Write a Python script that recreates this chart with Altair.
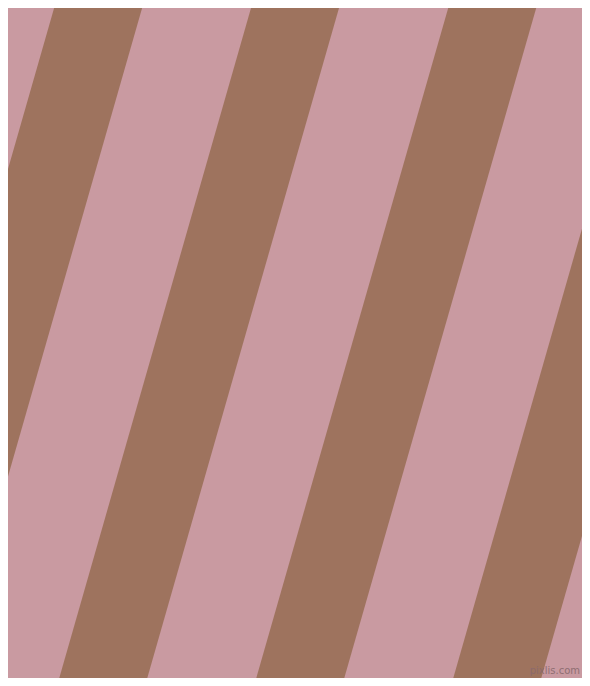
import altair as alt
import pandas as pd

# Stripe left-edge x positions at the top (y=0) and bottom (y=686) of the image
stripe_ids = ["s1", "s2", "s3", "s4"]
left_top = [56.4, 253.3, 450.5, 647.5]
left_bottom = [-140.0, 57.0, 254.0, 451.0]
stripe_width = 88.0
y_top = 0
y_bottom = 686

pink = "#C99AA1"
brown = "#9E735E"

rows = []
for sid, lt, lb in zip(stripe_ids, left_top, left_bottom):
    rows.append({"stripe": sid, "y": y_top, "x": lt, "x2": lt + stripe_width})
    rows.append({"stripe": sid, "y": y_bottom, "x": lb, "x2": lb + stripe_width})
df = pd.DataFrame(rows)

W, H = 574, 670
xs = alt.Scale(domain=[8, 8 + W], range=[0, W], nice=False, zero=False)
ys = alt.Scale(domain=[8, 8 + H], range=[0, H], nice=False, zero=False)

stripes = alt.Chart(df).mark_area(orient="horizontal", color=brown, clip=True, interpolate="linear").encode(
    y=alt.Y("y:Q", scale=ys, axis=None),
    x=alt.X("x:Q", scale=xs, axis=None),
    x2="x2:Q",
    detail="stripe:N",
)

wm = pd.DataFrame({"x": [580], "y": [8 + H - 7], "t": ["pixlis.com"]})
watermark = alt.Chart(wm).mark_text(
    align="right", baseline="middle", fontSize=10, font="DejaVu Sans",
    color="#8a6a6e", opacity=0.9
).encode(
    x=alt.X("x:Q", scale=xs, axis=None),
    y=alt.Y("y:Q", scale=ys, axis=None),
    text="t:N",
)

chart = alt.layer(stripes, watermark).properties(
    width=W, height=H, background=pink, padding=0,
    autosize=alt.AutoSizeParams(type="none")
).configure_view(stroke=None, fill=pink)

chart.save("out.html", embed_options={"renderer": "svg", "actions": False})
